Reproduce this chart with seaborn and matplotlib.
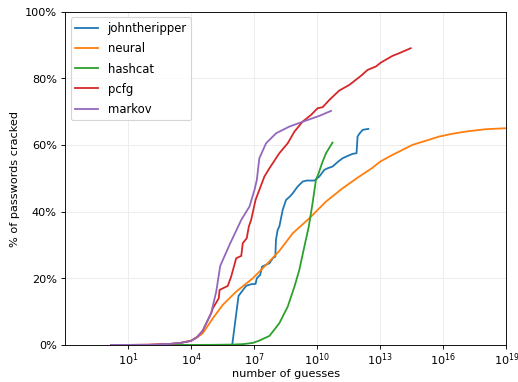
import numpy as np
import pandas as pd
import matplotlib
matplotlib.use("Agg")
import matplotlib.pyplot as plt
from matplotlib.ticker import PercentFormatter
import seaborn as sns

# -------------------------
# Data: log10(number of guesses) and % cracked
# -------------------------
methods = ["johntheripper", "neural", "hashcat", "pcfg", "markov"]

jtr_log = [5.96, 6.26, 6.45, 6.62, 6.85, 7.07, 7.13, 7.29, 7.38, 7.73, 7.89, 8.01, 8.04,
           8.12, 8.2, 8.36, 8.52, 8.7, 8.84, 9.07, 9.31, 9.5, 9.87, 10.1, 10.34, 10.5,
           10.73, 11.0, 11.21, 11.45, 11.68, 11.87, 11.92, 12.0, 12.16, 12.43]
jtr_pct = [0, 14.7, 16.3, 17.7, 18.2, 18.3, 20, 21, 23.5, 24.5, 26, 26.5, 31.5,
           34.5, 35.5, 40.5, 43.5, 44.5, 45.5, 47.5, 49, 49.3, 49.3, 50.5, 52.5, 53,
           53.5, 55, 56, 56.7, 57.3, 57.5, 62.5, 63.3, 64.5, 64.8]

neural_log = [0.2, 1, 2, 3, 3.5, 4, 4.3, 4.56, 5.04, 5.51, 6.15, 6.94, 7.57, 8.2, 8.84,
              9.63, 10.42, 11.21, 12.0, 12.6, 13.0, 13.58, 14.37, 14.53, 15.2, 15.8,
              16.4, 17.06, 18.0, 19.0]
neural_pct = [0, 0, 0.05, 0.3, 0.6, 1.3, 2.3, 3.5, 8, 12, 16, 20, 24, 28.2, 33.5,
              38, 43, 47, 50.5, 53, 55, 57, 59.5, 60, 61.3, 62.5,
              63.3, 64, 64.7, 65]

hashcat_log = [0.2, 4, 5, 6, 6.5, 6.94, 7.25, 7.73, 8.2, 8.6, 8.92, 9.15, 9.39, 9.6,
               9.78, 9.94, 10.07, 10.23, 10.42, 10.73]
hashcat_pct = [0, 0, 0.02, 0.1, 0.25, 0.6, 1.3, 2.7, 6.5, 11.5, 17.5, 22.5, 29.5, 35.5,
               42.5, 49.5, 51.5, 54.5, 57.5, 60.7]

pcfg_log = [0.2, 1, 2, 3, 3.5, 4, 4.3, 4.56, 4.96, 5.04, 5.32, 5.36, 5.75, 5.91, 6.15,
            6.39, 6.46, 6.65, 6.75, 6.86, 7.07, 7.25, 7.49, 7.73, 8.2, 8.6, 8.92, 9.31,
            9.71, 10.02, 10.26, 10.58, 11.05, 11.53, 12.08, 12.4, 12.79, 13.03, 13.58,
            13.9, 14.45]
pcfg_pct = [0, 0, 0.05, 0.3, 0.6, 1.2, 2.4, 4.3, 9.5, 11, 14, 16.5, 17.7, 20.5, 26,
            26.7, 30.5, 32, 35.5, 37.5, 43.5, 46.5, 50.5, 53, 57.5, 60.5, 64, 67,
            69, 71, 71.3, 73.5, 76.3, 78, 80.7, 82.5, 83.5, 84.7, 86.7,
            87.5, 89]

markov_log = [0.2, 1, 2, 3, 3.5, 4, 4.3, 4.56, 4.96, 5.2, 5.39, 5.83, 6.39, 6.78, 7.02,
              7.13, 7.25, 7.57, 8.05, 8.68, 9.47, 10.1, 10.66]
markov_pct = [0, 0, 0.05, 0.3, 0.6, 1.2, 2.4, 4.3, 9.6, 16, 23.7, 30, 37.5, 41.5, 46.5,
              49.5, 56, 60.5, 63.5, 65.5, 67.3, 68.7, 70.2]

xtick_exp = [1, 4, 7, 10, 13, 16, 19]
ytick_vals = [0, 20, 40, 60, 80, 100]

# -------------------------
# Build long-form table
# -------------------------
series = {
    "johntheripper": (jtr_log, jtr_pct),
    "neural": (neural_log, neural_pct),
    "hashcat": (hashcat_log, hashcat_pct),
    "pcfg": (pcfg_log, pcfg_pct),
    "markov": (markov_log, markov_pct),
}
frames = []
for name in methods:
    lg, pc = series[name]
    frames.append(pd.DataFrame({"guesses": 10.0 ** np.array(lg), "cracked": pc, "method": name}))
df = pd.concat(frames, ignore_index=True)

# -------------------------
# Plot
# -------------------------
fig, ax = plt.subplots(figsize=(6.4, 4.72), dpi=81)
fig.subplots_adjust(left=0.125, right=0.977, top=0.969, bottom=0.097)

palette = dict(zip(methods, sns.color_palette("tab10", 5)))
sns.lineplot(data=df, x="guesses", y="cracked", hue="method", hue_order=methods,
             palette=palette, estimator=None, sort=False, linewidth=1.6, ax=ax)

ax.set_xscale("log")
ax.set_xlim(1e-2, 1e19)
ax.set_ylim(0, 100)
ax.set_xticks([10.0 ** e for e in xtick_exp])
ax.xaxis.set_minor_locator(matplotlib.ticker.NullLocator())
ax.tick_params(axis="x", pad=2)
ax.set_yticks(ytick_vals)
ax.yaxis.set_major_formatter(PercentFormatter(xmax=100, decimals=0))
ax.grid(True, color="#ebebeb", linewidth=0.8)
ax.set_axisbelow(True)
ax.set_xlabel("number of guesses", labelpad=1)
ax.set_ylabel("% of passwords cracked")
ax.legend(loc="upper left", labelspacing=0.62, fontsize=10.3)

fig.savefig("out.png", dpi=81)
